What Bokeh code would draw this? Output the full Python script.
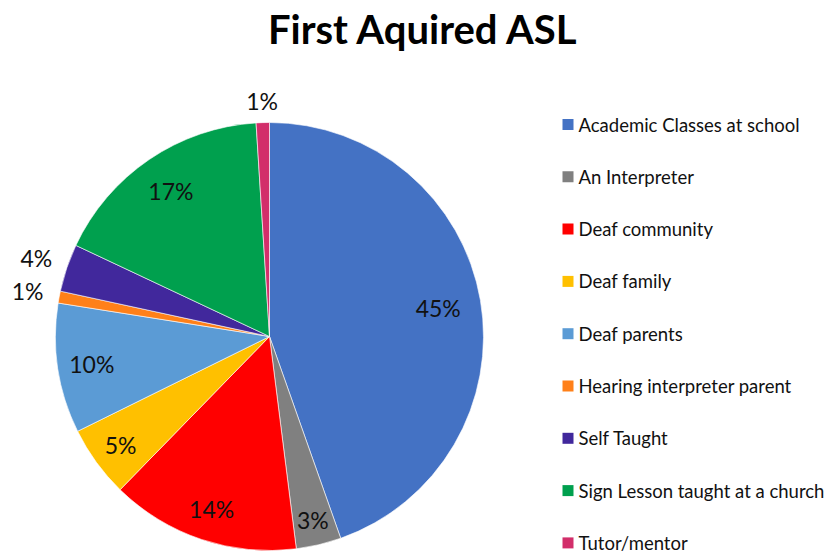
import math
from bokeh.plotting import figure
from bokeh.models import Range1d, ColumnDataSource
from bokeh.core.properties import value
from bokeh.embed import file_html
from bokeh.resources import INLINE

categories = ["Academic Classes at school", "An Interpreter", "Deaf community", "Deaf family",
              "Deaf parents", "Hearing interpreter parent", "Self Taught",
              "Sign Lesson taught at a church", "Tutor/mentor"]
shares = [44.6, 3.4, 14.3, 5.4, 9.8, 0.9, 3.6, 17.0, 1.0]
colors = ["#4472C4", "#808080", "#FF0000", "#FFC000", "#5B9BD5", "#FF8019", "#41289C", "#00A04E", "#D22E6A"]
label_r = [0.80, 0.88, 0.85, 0.86, 0.84, 1.15, 1.15, 0.82, 1.10]
title = "First Aquired ASL"

W, H = 834, 554
p = figure(width=W, height=H, output_backend="svg", toolbar_location=None,
           x_range=Range1d(0, W), y_range=Range1d(0, H), min_border=0)
p.axis.visible = False
p.grid.visible = False
p.outline_line_color = None
p.background_fill_color = "white"
p.border_fill_color = "white"

def Y(sy):
    return H - sy

cx, cy, R = 269, Y(336), 214
total = sum(shares)
starts, ends, lx, ly, labels = [], [], [], [], []
acc = 0.0
for v, lr in zip(shares, label_r):
    t1 = acc / total * 2 * math.pi
    acc += v
    t2 = acc / total * 2 * math.pi
    starts.append(math.pi / 2 - t2)
    ends.append(math.pi / 2 - t1)
    tm = (t1 + t2) / 2
    lx.append(cx + lr * R * math.sin(tm))
    ly.append(cy + lr * R * math.cos(tm))
    labels.append(f"{round(v / total * 100)}%")

src = ColumnDataSource(dict(start=starts, end=ends, color=colors, cat=categories))
p.wedge(x=cx, y=cy, radius=R, start_angle="start", end_angle="end", fill_color="color",
        line_color="white", line_width=0.6, source=src)

p.text(x=lx, y=ly, text=labels, text_font=value("Lato"), text_font_size="23px",
       text_align="center", text_baseline="middle", text_color="#111111")

p.text(x=[423], y=[Y(28)], text=[title], text_font=value("Lato"), text_font_size="40px",
       text_font_style="bold", text_align="center", text_baseline="middle", text_color="black")

ly0 = [Y(124 + i * 52.3) for i in range(len(categories))]
p.rect(x=[567.5] * len(categories), y=ly0, width=11, height=11, fill_color=colors, line_color=None)
p.text(x=[578] * len(categories), y=ly0, text=categories, text_font=value("Lato"),
       text_font_size="18.5px", text_align="left", text_baseline="middle", text_color="#111111")

open("out.html", "w").write(file_html(p, INLINE))
